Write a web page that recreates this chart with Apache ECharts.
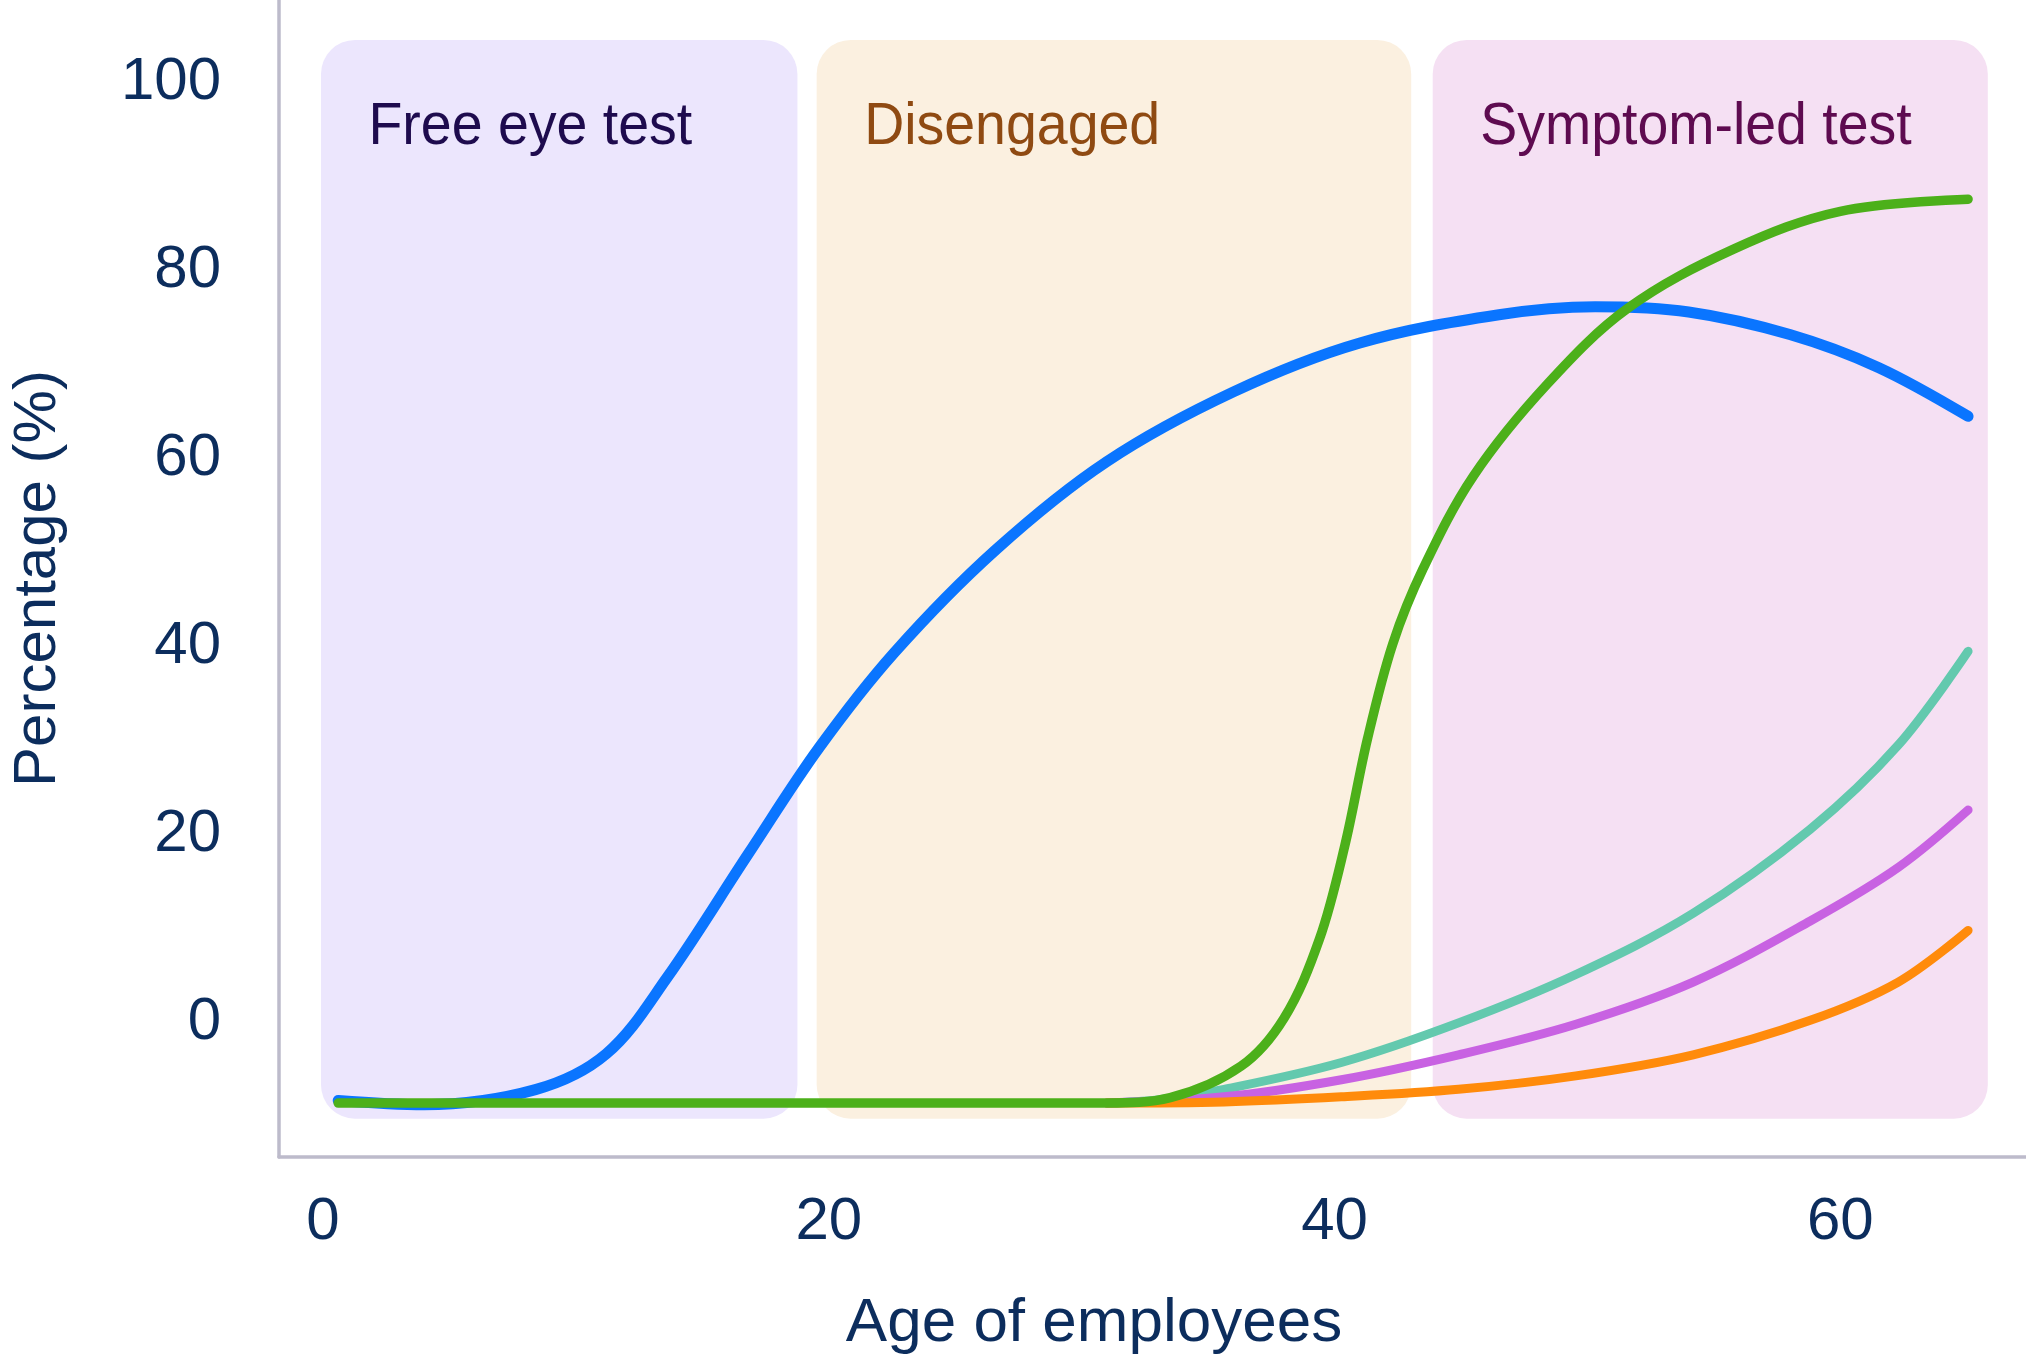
<!DOCTYPE html>
<html>
<head>
<meta charset="utf-8">
<script src="https://cdn.jsdelivr.net/npm/echarts@6/dist/echarts.min.js"></script>
<style>
html,body{margin:0;padding:0;background:#fff;}
#chart{width:2026px;height:1360px;}
</style>
</head>
<body>
<div id="chart"></div>
<script>
// ---- data ----
var xTickValues = [0, 20, 40, 60];
var yTickValues = [0, 20, 40, 60, 80, 100];

var regionNames = ['Free eye test', 'Disengaged', 'Symptom-led test'];
var regionStart = [-0.08, 19.52, 43.88];
var regionEnd = [18.76, 43.03, 65.83];
var regionBottom = [-10.18, -10.18, -10.18];
var regionTop = [104.52, 104.52, 104.52];

var blueData = [[0.6,-8.25],[4,-8.7],[8.4,-7.1],[11.2,-3.3],[13.6,4.8],[16.8,17.9],[19.6,29.2],[22.6,39.4],[26.6,50.3],[31,59.7],[36,67.1],[41,72.3],[46.5,75.3],[50.3,76.15],[54,75.6],[58,73.2],[61.5,69.7],[65.05,64.5]];
var greenData = [[0.6,-8.52],[20,-8.52],[31,-8.52],[33.5,-7.95],[36.3,-4.6],[38,0.5],[39.4,8.9],[40.4,18.8],[41.3,30.2],[42.3,40.3],[43.5,48.3],[45.5,58.2],[48.4,67.9],[51.6,76.0],[55.8,82.3],[60,86.3],[65.05,87.59]];
var tealData = [[31,-8.52],[33,-8.2],[35.63,-7.06],[40.27,-4.21],[44.9,0.0],[49.54,5.15],[54.18,11.66],[58.81,20.6],[62.29,29.55],[65.05,39.51]];
var purpleData = [[31,-8.52],[35.63,-7.86],[40.27,-6.04],[44.9,-3.39],[49.54,-0.14],[54.18,4.34],[58.81,10.84],[62.29,16.54],[65.05,22.64]];
var orangeData = [[31,-8.52],[35.63,-8.4],[40.27,-7.86],[44.9,-7.06],[49.54,-5.63],[54.18,-3.39],[58.81,0.27],[62.29,4.34],[65.05,9.83]];

// ---- styles ----
var regionFill = ['#ECE6FD', '#FBF0E0', '#F5E0F3'];
var regionTextColor = ['#1E0B4E', '#8F4A12', '#5E0B50'];
var axisTextColor = '#0C2D5D';
var axisLineColor = '#BDBBCB';
var FONT = '"Liberation Sans", Arial, Helvetica, sans-serif';

var regionSeriesData = regionNames.map(function (n, i) {
  return [regionStart[i], regionEnd[i], regionBottom[i], regionTop[i]];
});

function lineSeries(name, data, color, width, z) {
  return {
    name: name, type: 'line', data: data, smooth: 0.35,
    showSymbol: false, symbol: 'none', z: z,
    lineStyle: { color: color, width: width, cap: 'round', join: 'round' },
    emphasis: { disabled: true }, silent: true
  };
}

var chart = echarts.init(document.getElementById('chart'), null, { renderer: 'canvas' });
chart.setOption({
  animation: false,
  backgroundColor: '#ffffff',
  grid: { left: 266, right: 0, top: 0, bottom: 202.3, containLabel: false },
  xAxis: {
    type: 'value', min: -1.74, max: 67.34,
    name: 'Age of employees', nameLocation: 'middle', nameGap: 136,
    nameTextStyle: { fontSize: 62, color: axisTextColor, fontFamily: FONT, padding: [0, 117, 0, 0] },
    axisLine: { show: true, onZero: false, lineStyle: { color: axisLineColor, width: 3.5 } },
    axisTick: { show: false },
    splitLine: { show: false },
    axisLabel: { customValues: xTickValues, fontSize: 60, color: axisTextColor, fontFamily: FONT, margin: 35 }
  },
  yAxis: {
    type: 'value', min: -14.26, max: 108.77,
    name: 'Percentage (%)', nameLocation: 'middle', nameGap: 211,
    nameTextStyle: { fontSize: 60, color: axisTextColor, fontFamily: FONT },
    axisLine: { show: true, onZero: false, lineStyle: { color: axisLineColor, width: 3.5 } },
    axisTick: { show: false },
    splitLine: { show: false },
    axisLabel: { customValues: yTickValues, fontSize: 60, color: axisTextColor, fontFamily: FONT, margin: 58 }
  },
  series: [
    {
      type: 'custom', z: 1, silent: true,
      data: regionSeriesData,
      renderItem: function (params, api) {
        var i = params.dataIndex;
        var p0 = api.coord([api.value(0), api.value(3)]);
        var p1 = api.coord([api.value(1), api.value(2)]);
        return {
          type: 'group',
          children: [
            { type: 'rect', shape: { x: p0[0], y: p0[1], width: p1[0] - p0[0], height: p1[1] - p0[1], r: 34 },
              style: { fill: regionFill[i] } },
            { type: 'text', x: p0[0] + 47.5, y: p0[1] + 88, scaleX: 0.94,
              style: { text: regionNames[i], fill: regionTextColor[i], fontSize: 59, fontFamily: FONT, verticalAlign: 'middle', align: 'left' } }
          ]
        };
      }
    },
    lineSeries('Blue', blueData, '#0A75FF', 11, 3),
    lineSeries('Teal', tealData, '#63C9AE', 9, 4),
    lineSeries('Purple', purpleData, '#C862E2', 9, 5),
    lineSeries('Orange', orangeData, '#FF8B0B', 9, 6),
    lineSeries('Green', greenData, '#4CB01A', 9.5, 7)
  ]
});
</script>
</body>
</html>
